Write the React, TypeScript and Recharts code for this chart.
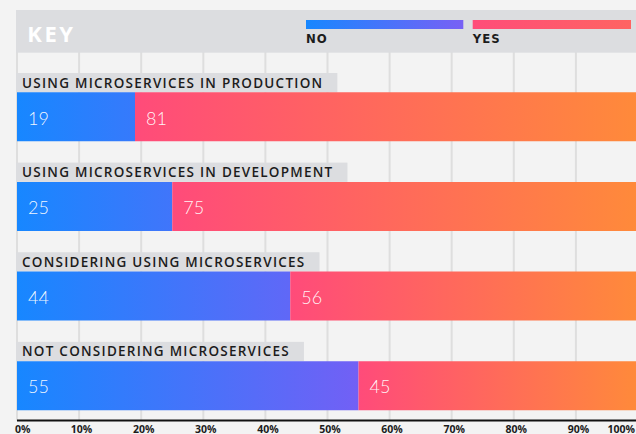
import { Bar, BarChart, CartesianGrid, LabelList, Legend, Rectangle, XAxis, YAxis } from "recharts";

const categories = [
  "USING MICROSERVICES IN PRODUCTION",
  "USING MICROSERVICES IN DEVELOPMENT",
  "CONSIDERING USING MICROSERVICES",
  "NOT CONSIDERING MICROSERVICES",
];
const noValues = [19, 25, 44, 55];
const yesValues = [81, 75, 56, 45];
const percentTicks = [0, 10, 20, 30, 40, 50, 60, 70, 80, 90, 100];

const data = categories.map((name, i) => ({ name, no: noValues[i], yes: yesValues[i] }));

const WIDTH = 640;
const HEIGHT = 434;
const AXIS_H = 13.5;
const MARGIN = { top: 52, right: 2, bottom: 0, left: 17 };
const PLOT_W = WIDTH - MARGIN.left - MARGIN.right;

// each row = grey caption tag on top of the coloured bar
const TAG_H = 19.3;
const BAR_H = 49;
const ROW_H = TAG_H + BAR_H;

const BG = "#f3f3f3";
const PANEL = "#dcdde0";
const INK = "#1c1c1c";

// legend slots inside the key header (relative to header left)
const keySlots = [
  { x: 290, w: 157.3, from: "#1787ff", to: "#7860f5" },
  { x: 456.7, w: 158.3, from: "#ff4c79", to: "#ff6462" },
];

const tagFont = '600 13.5px "Open Sans"';
const TAG_SPACING = 1.25;

let measureCtx: CanvasRenderingContext2D | null = null;
function textWidth(text: string) {
  if (!measureCtx) measureCtx = document.createElement("canvas").getContext("2d");
  if (!measureCtx) return text.length * 9;
  measureCtx.font = tagFont;
  return measureCtx.measureText(text).width + TAG_SPACING * text.length;
}

function KeyHeader(props: any) {
  const payload = props.payload || [];
  return (
    <svg width={620} height={43} style={{ display: "block" }}>
      <defs>
        {keySlots.map((s, i) => (
          <linearGradient key={i} id={`key-grad-${i}`} x1="0" x2="1" y1="0" y2="0">
            <stop offset="0%" stopColor={s.from} />
            <stop offset="100%" stopColor={s.to} />
          </linearGradient>
        ))}
      </defs>
      <rect x={0} y={0} width={620} height={42.7} fill={PANEL} />
      <text x={11.3} y={32.3} fill="#fff" fontFamily="Open Sans" fontWeight={700} fontSize={22} letterSpacing={2.5}>
        KEY
      </text>
      {payload.map((entry: any, i: number) => {
        const s = keySlots[i];
        return (
          <g key={entry.value}>
            <rect x={s.x} y={10} width={s.w} height={9} fill={`url(#key-grad-${i})`} />
            <text
              x={s.x}
              y={33.3}
              fill={INK}
              fontFamily='"Liberation Sans Narrow", "DejaVu Sans Condensed", sans-serif'
              fontWeight={700}
              fontSize={13}
              letterSpacing={1}
            >
              {entry.value}
            </text>
          </g>
        );
      })}
    </svg>
  );
}

// NO segment: caption tag in the top part of the row, bar below it
function NoShape(props: any) {
  const { x, y, width, height, payload, fill } = props;
  const barTop = y + height - BAR_H;
  const label = String(payload.name);
  return (
    <g>
      <rect x={x - 1} y={barTop - TAG_H} width={textWidth(label) + 20} height={TAG_H} fill={PANEL} />
      <text
        x={x + 5}
        y={barTop - 4.7}
        fill={INK}
        fontFamily="Open Sans"
        fontWeight={600}
        fontSize={13.5}
        letterSpacing={TAG_SPACING}
      >
        {label}
      </text>
      <Rectangle x={x} y={barTop} width={width} height={BAR_H} fill={fill} />
    </g>
  );
}

function YesShape(props: any) {
  const { x, y, width, height, fill } = props;
  return <Rectangle x={x} y={y + height - BAR_H} width={width} height={BAR_H} fill={fill} />;
}

function ValueLabel(props: any) {
  const { x, y, height, value } = props;
  return (
    <text
      x={x + 11}
      y={y + height - 16.7}
      fill="#fff"
      fillOpacity={0.95}
      fontFamily="Lato"
      fontWeight={300}
      fontSize={18}
    >
      {value}
    </text>
  );
}

function PercentTick(props: any) {
  const { x, y, payload } = props;
  const v = payload.value;
  let anchor: "start" | "middle" | "end" = "middle";
  let dx = 2.5;
  if (v === 0) {
    anchor = "start";
    dx = -2;
  } else if (v === 100) {
    anchor = "end";
    dx = -3;
  }
  return (
    <text x={x + dx} y={y + 12} textAnchor={anchor} fill={INK} fontFamily="Open Sans" fontWeight={700} fontSize={10.5}>
      {v}%
    </text>
  );
}

export default function App() {
  return (
    <div
      style={{
        position: "absolute",
        left: 0,
        top: 0,
        width: 636,
        height: 434,
        overflow: "hidden",
        background: BG,
      }}
    >
      <BarChart width={WIDTH} height={HEIGHT} data={data} layout="vertical" margin={MARGIN}>
        <defs>
          <linearGradient
            id="no-grad"
            gradientUnits="userSpaceOnUse"
            x1={MARGIN.left}
            x2={MARGIN.left + PLOT_W * 0.55}
            y1={0}
            y2={0}
          >
            <stop offset="0%" stopColor="#1787ff" />
            <stop offset="100%" stopColor="#7260f5" />
          </linearGradient>
          <linearGradient id="yes-grad" x1="0" x2="1" y1="0" y2="0">
            <stop offset="0%" stopColor="#ff4b7a" />
            <stop offset="100%" stopColor="#ff8a3a" />
          </linearGradient>
        </defs>
        <CartesianGrid horizontal={false} stroke="#dedede" strokeWidth={2} />
        <XAxis
          type="number"
          domain={[0, 100]}
          ticks={percentTicks}
          height={AXIS_H}
          axisLine={{ stroke: "#111", strokeWidth: 2 }}
          tickLine={false}
          tickSize={0}
          tickMargin={0}
          tick={<PercentTick />}
          interval={0}
        />
        <YAxis type="category" dataKey="name" hide padding={{ top: 10, bottom: 0 }} />
        <Legend
          layout="horizontal"
          verticalAlign="middle"
          align="center"
          wrapperStyle={{ top: 10, left: 16, width: 620, height: 43 }}
          content={<KeyHeader />}
        />
        <Bar
          dataKey="no"
          name="NO"
          stackId="s"
          fill="url(#no-grad)"
          barSize={ROW_H}
          shape={<NoShape />}
          isAnimationActive={false}
        >
          <LabelList dataKey="no" content={<ValueLabel />} />
        </Bar>
        <Bar
          dataKey="yes"
          name="YES"
          stackId="s"
          fill="url(#yes-grad)"
          barSize={ROW_H}
          shape={<YesShape />}
          isAnimationActive={false}
        >
          <LabelList dataKey="yes" content={<ValueLabel />} />
        </Bar>
      </BarChart>
    </div>
  );
}
